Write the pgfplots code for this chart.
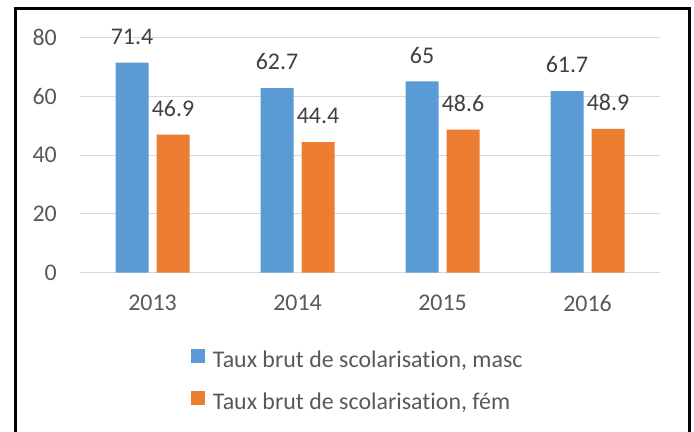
\documentclass[border=0pt]{standalone}
\usepackage{pgfplots}
\pgfplotsset{compat=1.18}
\usepackage{fontspec}
\setmainfont{Carlito}[Ligatures=NoCommon]
\definecolor{cblue}{HTML}{5B9BD5}
\definecolor{corange}{HTML}{ED7D31}
\definecolor{ctext}{HTML}{595959}
\definecolor{clab}{HTML}{404040}
\definecolor{cgrid}{HTML}{D9D9D9}
\begin{document}
\begin{tikzpicture}[x=1bp,y=1bp]
\useasboundingbox (0,0) rectangle (694,431);
\fill[white] (0,0) rectangle (694,431);
\begin{axis}[
  at={(80bp,158.3bp)}, anchor=south west,
  scale only axis, width=580bp, height=235.4bp,
  xmin=-0.5, xmax=3.5, ymin=0, ymax=80,
  ybar=8bp, bar width=33bp,
  axis line style={draw=none},
  xtick={0,1,2,3}, xticklabels={2013,2014,2015,2016},
  ytick={0,20,40,60,80},
  major tick length=0pt,
  ymajorgrids, major grid style={cgrid, line width=1bp},
  tick label style={font=\fontsize{24}{28}\selectfont, text=ctext},
  yticklabel style={anchor=east, inner sep=0pt, xshift=-23bp},
  xticklabel style={anchor=north, inner sep=0pt, yshift=-22bp},
  /pgf/number format/assume math mode=true,
  nodes near coords,
  nodes near coords style={font=\fontsize{24}{28}\selectfont, text=clab, anchor=south, inner sep=0pt, yshift=18bp},
  legend style={at={(0.191,-0.323)}, anchor=north west, draw=none, fill=none,
    font=\fontsize{24}{28}\selectfont, text=ctext, row sep=20bp, inner sep=0pt,
    /tikz/column sep=6bp},
  legend cell align=left,
  legend image code/.code={\fill[#1] (0bp,-3bp) rectangle (14bp,11bp);},
]
\addplot[fill=cblue, draw=none] coordinates {(0,71.4) (1,62.7) (2,65) (3,61.7)};
\addplot[fill=corange, draw=none] coordinates {(0,46.9) (1,44.4) (2,48.6) (3,48.9)};
\legend{{Taux brut de scolarisation, masc}, {Taux brut de scolarisation, fém}}
\end{axis}
\draw[black, line width=3.5bp] (15.5,-5) -- (15.5,422.5) -- (689.5,422.5) -- (689.5,-5);
\end{tikzpicture}
\end{document}
